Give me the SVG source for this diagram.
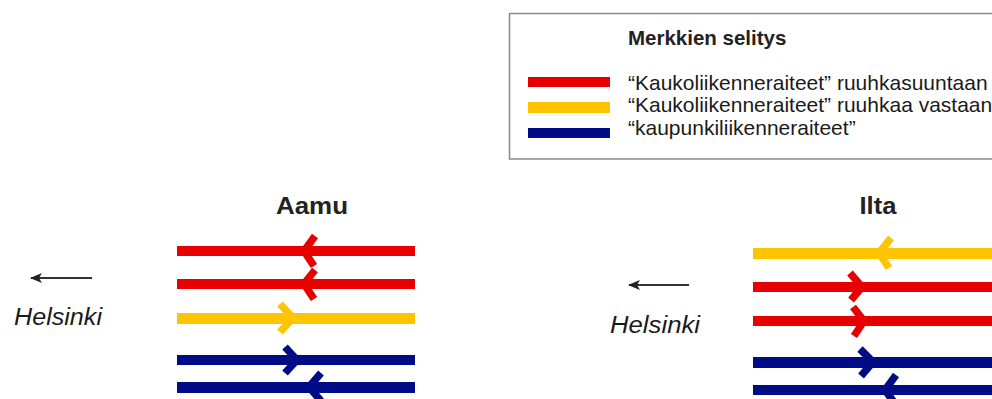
<svg xmlns="http://www.w3.org/2000/svg" width="992" height="399" viewBox="0 0 992 399">
  <defs>
    <marker id="ah" viewBox="0 0 12 10" refX="11" refY="5" markerWidth="12" markerHeight="10" markerUnits="userSpaceOnUse" orient="auto">
      <path d="M12,5 L0,0 L3,5 L0,10 Z" fill="#222"/>
    </marker>
    <style>
      .red { fill: #e60000; }
      .yel { fill: #ffc400; }
      .blu { fill: #000c85; }
      .cr { stroke: #e60000; }
      .cy { stroke: #ffc400; }
      .cb { stroke: #000c85; }
      .chev { fill: none; stroke-width: 7.5; stroke-linejoin: miter; stroke-linecap: butt; }
      .txt { font-family: "Liberation Sans", Arial, sans-serif; fill: #1a1a1a; }
      .title { font-family: "Liberation Sans", Arial, sans-serif; font-weight: bold; fill: #222; }
      .ital { font-family: "Liberation Sans", Arial, sans-serif; font-style: italic; fill: #1a1a1a; }
      .dir { stroke: #333; stroke-width: 2; fill: none; }
    </style>
  </defs>
  <rect width="992" height="399" fill="#ffffff"/>

  <g id="legend">
    <rect x="509.5" y="13.5" width="500" height="145.5" fill="#ffffff" stroke="#8a8a8a" stroke-width="1.5"/>
    <text class="title" x="628" y="45" font-size="20.5">Merkkien selitys</text>
    <rect class="red" x="528" y="77" width="82" height="10"/>
    <rect class="yel" x="528" y="102" width="82" height="11"/>
    <rect class="blu" x="528" y="128" width="82" height="10"/>
    <text class="txt" x="628" y="90" font-size="21">“Kaukoliikenneraiteet” ruuhkasuuntaan</text>
    <text class="txt" x="628" y="112" font-size="21">“Kaukoliikenneraiteet” ruuhkaa vastaan</text>
    <text class="txt" x="628" y="134.5" font-size="21">“kaupunkiliikenneraiteet”</text>
  </g>

  <g id="aamu">
    <text class="title" x="312" y="214" font-size="24" text-anchor="middle" textLength="72" lengthAdjust="spacingAndGlyphs">Aamu</text>
    <rect class="red" x="177" y="246" width="238" height="10"/>
    <rect class="red" x="177" y="279" width="238" height="10"/>
    <rect class="yel" x="177" y="313" width="238" height="11"/>
    <rect class="blu" x="177" y="355" width="238" height="10"/>
    <rect class="blu" x="177" y="382" width="238" height="11"/>
    <polyline class="chev cr" points="315,236 304,251 314,266"/>
    <polyline class="chev cr" points="315,270 304,284 314,299"/>
    <polyline class="chev cy" points="280,304 293,318 280,332"/>
    <polyline class="chev cb" points="285,347 297,360 285,373"/>
    <polyline class="chev cb" points="321,373 309,387 321,401"/>
  </g>

  <g id="ilta">
    <text class="title" x="878" y="214" font-size="24" text-anchor="middle" textLength="37" lengthAdjust="spacingAndGlyphs">Ilta</text>
    <rect class="yel" x="753" y="248" width="240" height="11"/>
    <rect class="red" x="753" y="282" width="240" height="10"/>
    <rect class="red" x="753" y="316" width="240" height="10"/>
    <rect class="blu" x="753" y="357" width="240" height="11"/>
    <rect class="blu" x="753" y="385" width="240" height="10"/>
    <polyline class="chev cy" points="891,238 879,253 889,268"/>
    <polyline class="chev cr" points="850,273 862,287 851,300"/>
    <polyline class="chev cr" points="853,307 864,321 854,336"/>
    <polyline class="chev cb" points="860,349 873,362 861,376"/>
    <polyline class="chev cb" points="896,375 885,390 896,405"/>
  </g>

  <g id="helsinki-left">
    <text class="ital" x="14" y="325" font-size="23" textLength="88" lengthAdjust="spacingAndGlyphs">Helsinki</text>
  </g>
  <g id="helsinki-right">
    <text class="ital" x="610" y="333" font-size="23" textLength="90" lengthAdjust="spacingAndGlyphs">Helsinki</text>
  </g>

  <g id="connectors">
    <line class="dir" x1="92" y1="278" x2="31" y2="278" marker-end="url(#ah)"/>
    <line class="dir" x1="689" y1="285" x2="629" y2="285" marker-end="url(#ah)"/>
  </g>
</svg>
